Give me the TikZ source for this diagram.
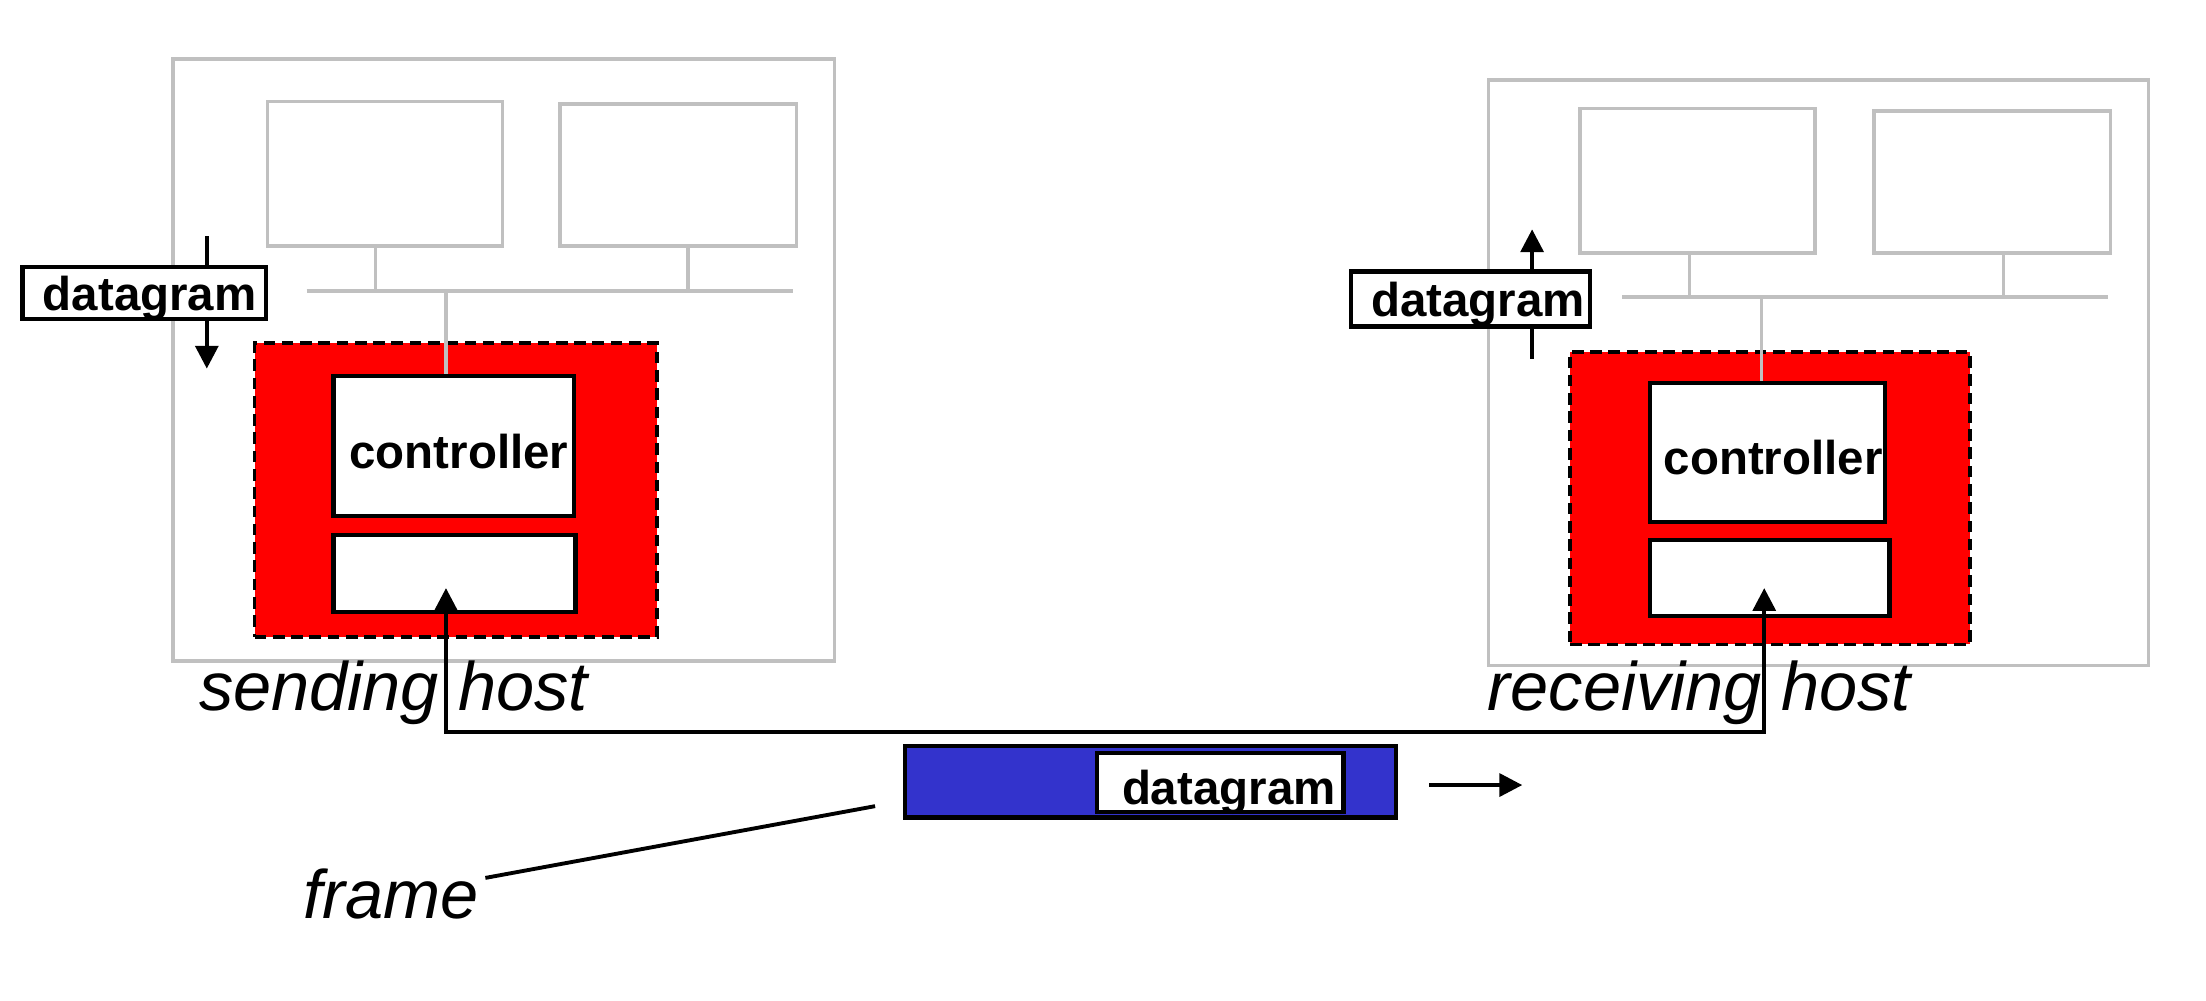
\documentclass[tikz,border=0pt]{standalone}
\usepackage{fontspec}
\setmainfont{Liberation Sans}
\usetikzlibrary{arrows.meta,fit}
\definecolor{hostgray}{HTML}{C0C0C0}
\definecolor{nicred}{HTML}{FF0000}
\definecolor{frameblue}{HTML}{3333CC}
\begin{document}
\begin{tikzpicture}[x=0.014069cm,y=-0.014069cm,
  hostbox/.style={draw=hostgray,line width=1pt,inner sep=0pt},
  nicbox/.style={draw=black,fill=nicred,line width=1.05pt,dash pattern=on 3.3pt off 1.9pt,inner sep=0pt},
  wbox/.style={draw=black,fill=white,line width=1.2pt,inner sep=0pt},
  bus/.style={draw=hostgray,line width=1pt},
  lbl/.style={font=\bfseries\fontsize{13.5}{15}\selectfont,inner sep=0pt,anchor=base west},
  hostlbl/.style={font=\itshape\fontsize{19.5}{22}\selectfont,inner sep=0pt,anchor=base west},
  arr/.style={-{Triangle[width=6.5pt,length=6.5pt]},line width=1.1pt},
  arrboth/.style={{Triangle[width=6.5pt,length=6.5pt]}-{Triangle[width=6.5pt,length=6.5pt]},line width=1.1pt},
  plain/.style={draw=black,line width=1.1pt}]
\useasboundingbox (0,0) rectangle (1568,710.8);

% ---------- sending host ----------
\node[hostbox,fit={(123,42)(593,470)}] (hostL) {};
\node[hostbox,fit={(190,72)(357,175)}] (appL1) {};
\node[hostbox,fit={(398,74)(566,175)}] (appL2) {};
\coordinate (busLa) at (218,207);
\coordinate (busLb) at (564,207);
\draw[bus] (busLa) -- (busLb);
\draw[bus] (appL1.south -| 267,0) -- (267,207);
\draw[bus] (appL2.south -| 489,0) -- (489,207);
\node[nicbox,fit={(181,244)(467,453)}] (nicL) {};
\node[wbox,fit={(237,267)(408,367)}] (ctrlL) {};
\node[wbox,fit={(237,380)(409,435)}] (lowL) {};
\draw[bus] (317,207) -- (ctrlL.north -| 317,0);
\node[lbl] (ctrlLt) at (248,333) {controller};

\coordinate (dgLa) at (147,168);
\coordinate (dgLb) at (147,262);
\draw[arr] (dgLa) -- (dgLb);
\node[wbox,fit={(16,190)(189,227)}] (dgL) {};
\node[lbl] (dgLt) at (30,221) {datagram};

\node[hostlbl] (sendlbl) at (141,505) {sending host};

% ---------- receiving host ----------
\node[hostbox,fit={(1058,57)(1527,473)}] (hostR) {};
\node[hostbox,fit={(1123,77)(1290,180)}] (appR1) {};
\node[hostbox,fit={(1332,79)(1500,180)}] (appR2) {};
\coordinate (busRa) at (1153,211);
\coordinate (busRb) at (1498,211);
\draw[bus] (busRa) -- (busRb);
\draw[bus] (appR1.south -| 1201,0) -- (1201,211);
\draw[bus] (appR2.south -| 1424,0) -- (1424,211);
\node[nicbox,fit={(1116,250)(1400,458)}] (nicR) {};
\node[wbox,fit={(1173,272)(1340,371)}] (ctrlR) {};
\node[wbox,fit={(1173,384)(1343,438)}] (lowR) {};
\draw[bus] (1252,211) -- (ctrlR.north -| 1252,0);
\node[lbl] (ctrlRt) at (1182,337) {controller};

\coordinate (dgRa) at (1089,255);
\coordinate (dgRb) at (1089,163);
\draw[arr] (dgRa) -- (dgRb);
\node[wbox,fit={(960,193)(1130,232)}] (dgR) {};
\node[lbl] (dgRt) at (974,225) {datagram};

\node[hostlbl] (recvlbl) at (1057,505) {receiving host};

% ---------- link ----------
\coordinate (tipL) at (317,418);
\coordinate (bendL) at (317,520);
\coordinate (bendR) at (1254,520);
\coordinate (tipR) at (1254,418);
\draw[arrboth] (tipL) -- (bendL) -- (bendR) -- (tipR);

% ---------- frame ----------
\node[draw=black,fill=frameblue,line width=1.2pt,inner sep=0pt,fit={(643,530)(992,581)}] (frm) {};
\node[wbox,fit={(780,535)(955,577)}] (frmdg) {};
\node[lbl] (frmdgt) at (797,572) {datagram};

\coordinate (mvA) at (1016,558);
\coordinate (mvB) at (1082,558);
\draw[arr] (mvA) -- (mvB);

\node[hostlbl] (framelbl) at (215,653) {frame};
\coordinate (fpA) at (345,624);
\coordinate (fpB) at (622,573);
\draw[plain] (fpA) -- (fpB);
\end{tikzpicture}
\end{document}
